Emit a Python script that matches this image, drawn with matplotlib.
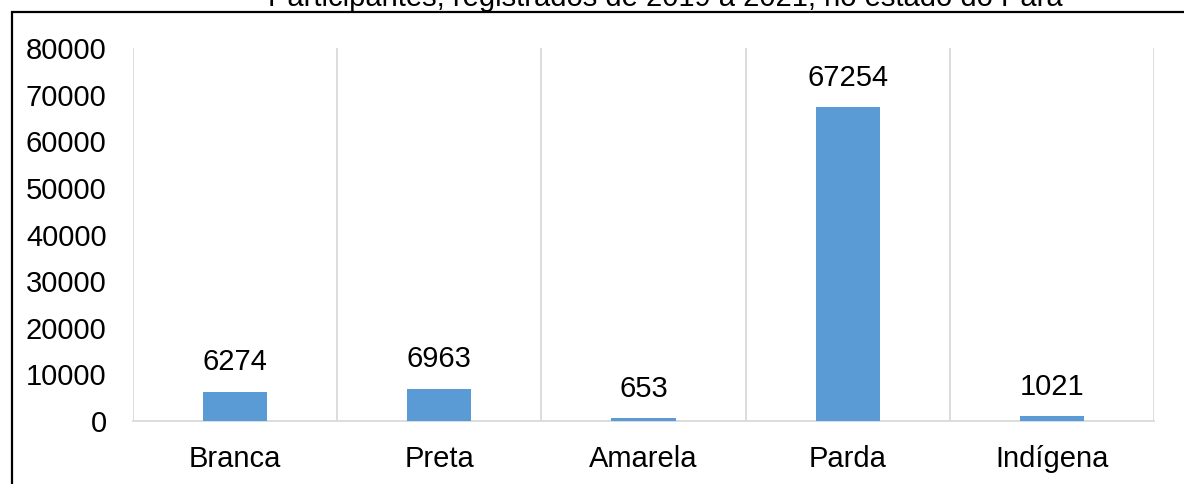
import matplotlib.pyplot as plt
from matplotlib.patches import Rectangle

categorias = ['Branca', 'Preta', 'Amarela', 'Parda', 'Indígena']
valores = [6274, 6963, 653, 67254, 1021]
yticks = list(range(0, 80001, 10000))

plt.rcParams['font.family'] = ['Liberation Sans', 'DejaVu Sans']

fig = plt.figure(figsize=(11.84, 4.84), dpi=100)
ax = fig.add_axes([133 / 1184, 1 - 421 / 484, 1021 / 1184, 373 / 484])

x = list(range(len(categorias)))
ax.bar(x, valores, width=0.314, color='#5B9BD5', zorder=3)
for xi, v in zip(x, valores):
    ax.annotate(str(v), (xi, v), xytext=(0, 11), textcoords='offset points',
                ha='center', va='bottom', fontsize=21)

ax.set_xlim(-0.5, len(categorias) - 0.5)
ax.set_ylim(0, 80000)
ax.set_yticks(yticks)
ax.set_yticklabels([str(t) for t in yticks], fontsize=21)
ax.set_xticks(x)
ax.set_xticklabels(categorias, fontsize=21)
ax.tick_params(axis='both', length=0)
ax.tick_params(axis='x', pad=17)
ax.tick_params(axis='y', pad=19)

# linhas verticais entre categorias
for b in [i + 0.5 for i in range(-1, len(categorias))]:
    ax.axvline(b, color='#D9D9D9', lw=1.3, zorder=1)

for s in ['top', 'right', 'left']:
    ax.spines[s].set_visible(False)
ax.spines['bottom'].set_color('#D9D9D9')
ax.spines['bottom'].set_linewidth(1.3)

# título cortado no topo
fig.text(665 / 1184, 1 - 6 / 484,
         'Participantes, registrados de 2019 a 2021, no estado do Pará',
         ha='center', va='baseline', fontsize=21)

# moldura
fig.add_artist(Rectangle((12 / 1184, -0.1), 1.2, 1.1 - 12 / 484,
                         transform=fig.transFigure, fill=False,
                         edgecolor='black', lw=1.6))

fig.savefig('out.png', dpi=100)
